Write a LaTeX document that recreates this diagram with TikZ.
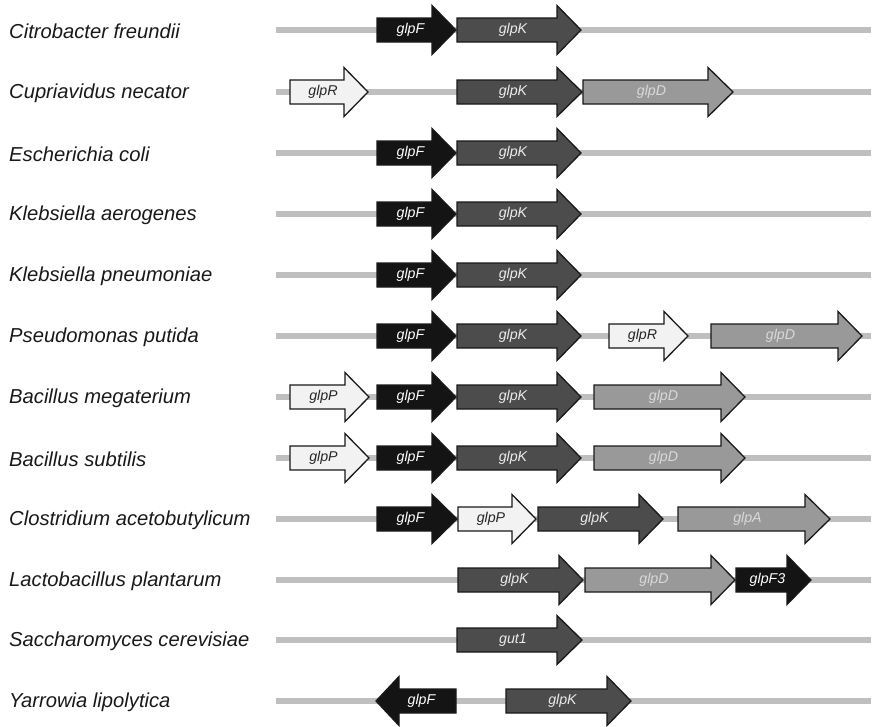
\documentclass[tikz,border=0pt]{standalone}
\usepackage{fontspec}
\setmainfont{Liberation Sans}
\begin{document}
\begin{tikzpicture}[x=1pt,y=-1pt,
  backbone/.style={draw=backbonegray,line width=6pt},
  species/.style={anchor=west,inner sep=0pt,font=\fontsize{20.2}{23}\selectfont\itshape,text=black!90},
  genelabel/.style={inner sep=0pt,font=\fontsize{14.2}{16}\selectfont\itshape},
  gF/.style={draw=black!90,line width=1.3pt,fill=black!92},
  gF text/.style={text=white},
  gK/.style={draw=black!90,line width=1.3pt,fill=black!70},
  gK text/.style={text=white!92!black},
  gD/.style={draw=black!90,line width=1.3pt,fill=black!40},
  gD text/.style={text=white!85!black},
  gR/.style={draw=black!90,line width=1.3pt,fill=black!5},
  gR text/.style={text=black!85},
]
\definecolor{backbonegray}{gray}{0.75}
\useasboundingbox (0,0) rectangle (873,726);

% gene arrow: name, row y, tail x, head base x, tip x, style, label
\newcommand{\gene}[7]{%
  \pgfmathsetmacro{\gdir}{(#5>#3)?1:-1}%
  \pgfmathsetmacro{\gmid}{(#3+#4)/2+6*\gdir}%
  \draw[#6] (#3,#2-12) -- (#4,#2-12) -- (#4,#2-24.5) -- (#5,#2)
     -- (#4,#2+24.5) -- (#4,#2+12) -- (#3,#2+12) -- cycle;
  \node[genelabel,#6 text] (#1) at (\gmid,#2) {#7};
}
% one row: index, y, species name
\newcommand{\row}[3]{%
  \coordinate (L#1) at (276,#2);
  \coordinate (R#1) at (871,#2);
  \draw[backbone] (L#1) -- (R#1);
  \node[species] (sp#1) at (9,#2+1) {#3};
}

\row{1}{30}{Citrobacter freundii}
\gene{g1F}{30}{377}{432}{456}{gF}{glpF}
\gene{g1K}{30}{457}{557}{581}{gK}{glpK}

\row{2}{92}{Cupriavidus necator}
\gene{g2R}{92}{290}{344}{368}{gR}{glpR}
\gene{g2K}{92}{457}{557}{582}{gK}{glpK}
\gene{g2D}{92}{583}{708}{733}{gD}{glpD}

\row{3}{153}{Escherichia coli}
\gene{g3F}{153}{377}{432}{456}{gF}{glpF}
\gene{g3K}{153}{457}{557}{581}{gK}{glpK}

\row{4}{214}{Klebsiella aerogenes}
\gene{g4F}{214}{377}{432}{456}{gF}{glpF}
\gene{g4K}{214}{457}{557}{581}{gK}{glpK}

\row{5}{275}{Klebsiella pneumoniae}
\gene{g5F}{275}{377}{432}{456}{gF}{glpF}
\gene{g5K}{275}{457}{557}{581}{gK}{glpK}

\row{6}{336}{Pseudomonas putida}
\gene{g6F}{336}{377}{432}{456}{gF}{glpF}
\gene{g6K}{336}{457}{557}{581}{gK}{glpK}
\gene{g6R}{336}{609}{664}{688}{gR}{glpR}
\gene{g6D}{336}{711}{838}{862}{gD}{glpD}

\row{7}{397}{Bacillus megaterium}
\gene{g7P}{397}{290}{345}{369}{gR}{glpP}
\gene{g7F}{397}{377}{432}{456}{gF}{glpF}
\gene{g7K}{397}{457}{557}{581}{gK}{glpK}
\gene{g7D}{397}{594}{721}{745}{gD}{glpD}

\row{8}{458}{Bacillus subtilis}
\gene{g8P}{458}{290}{345}{369}{gR}{glpP}
\gene{g8F}{458}{377}{432}{456}{gF}{glpF}
\gene{g8K}{458}{457}{557}{581}{gK}{glpK}
\gene{g8D}{458}{594}{721}{745}{gD}{glpD}

\row{9}{519}{Clostridium acetobutylicum}
\gene{g9F}{519}{377}{432}{457}{gF}{glpF}
\gene{g9P}{519}{458}{512}{536}{gR}{glpP}
\gene{g9K}{519}{538}{639}{663}{gK}{glpK}
\gene{g9A}{519}{678}{805}{830}{gD}{glpA}

\row{10}{580}{Lactobacillus plantarum}
\gene{g10K}{580}{458}{559}{583}{gK}{glpK}
\gene{g10D}{580}{585}{711}{735}{gD}{glpD}
\gene{g10F}{580}{736}{787}{811}{gF}{glpF3}

\row{11}{640}{Saccharomyces cerevisiae}
\gene{g11K}{640}{457}{557}{582}{gK}{gut1}

\row{12}{701}{Yarrowia lipolytica}
\gene{g12F}{701}{456}{399}{376}{gF}{glpF}
\gene{g12K}{701}{506}{607}{631}{gK}{glpK}
\end{tikzpicture}
\end{document}
